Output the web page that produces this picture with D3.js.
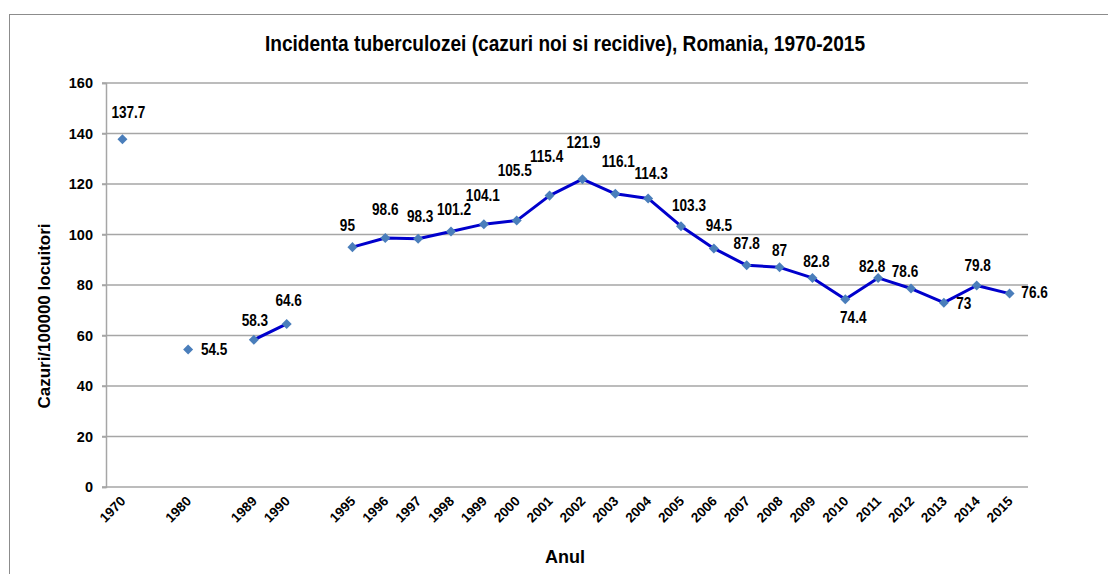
<!DOCTYPE html>
<html lang="ro">
<head>
<meta charset="utf-8">
<title>Incidenta tuberculozei, Romania, 1970-2015</title>
<script src="https://d3js.org/d3.v7.min.js"></script>
<style type="text/css">
  body { margin: 0; background: #fff; }
  text { font-family: "Liberation Sans", Arial, sans-serif; fill: #000; }
</style>
</head>
<body>
<script type="text/javascript">
// categories (empty strings are spacer slots on the axis)
var years = ["1970", "", "1980", "", "1989", "1990", "", "1995", "1996", "1997", "1998", "1999",
             "2000", "2001", "2002", "2003", "2004", "2005", "2006", "2007", "2008", "2009",
             "2010", "2011", "2012", "2013", "2014", "2015"];
// cases per 100000 inhabitants
var values = [137.7, null, 54.5, null, 58.3, 64.6, null, 95, 98.6, 98.3, 101.2, 104.1,
              105.5, 115.4, 121.9, 116.1, 114.3, 103.3, 94.5, 87.8, 87, 82.8,
              74.4, 82.8, 78.6, 73, 79.8, 76.6];
var yTicks = [0, 20, 40, 60, 80, 100, 120, 140, 160];
// where each value label sits relative to its point [dx, dy]
var labelOffset = [[6,-27], null, [26,0], null, [1,-19], [2,-23], null, [-5,-22], [0,-29], [2,-22], [3,-22], [-1,-29],
                   [-2,-50], [-3,-39], [1,-37], [3,-32], [3,-25], [8,-21], [5,-23], [0,-22], [0,-17], [4,-17],
                   [8,18], [-6,-12], [-6,-17], [20,1], [1,-20], [25,-1]];

var w = 1108, h = 574;
var pLeft = 106, pRight = 1026, pTop = 83, pBottom = 487;

var svg = d3.select("body").append("svg")
  .attr("width", w).attr("height", h);

// outer frame
svg.append("rect")
  .attr("x", 9.5).attr("y", 14.5)
  .attr("width", 1110).attr("height", 600)
  .style("fill", "none").style("stroke", "#8c8c8c").style("stroke-width", 1);

var x = d3.scaleBand().domain(d3.range(years.length)).range([pLeft, pRight]);
var y = d3.scaleLinear().domain([0, 160]).range([pBottom, pTop]);
function cx(i){ return x(i) + x.bandwidth()/2; }

// gridlines
svg.append("g").selectAll("line")
  .data(yTicks).enter().append("line")
  .attr("x1", pLeft - 4).attr("x2", pRight + 2)
  .attr("y1", function(d){ return y(d); })
  .attr("y2", function(d){ return y(d); })
  .style("stroke", "#a6a6a6").style("stroke-width", 1.5);

// y axis
var yAxis = svg.append("g")
  .attr("transform", "translate(" + pLeft + ",0)")
  .call(d3.axisLeft(y).tickValues(yTicks).tickSize(4).tickPadding(9));
yAxis.select(".domain").style("stroke", "#a6a6a6").style("stroke-width", 1.5);
yAxis.selectAll(".tick line").style("stroke", "#a6a6a6").style("stroke-width", 1.5);
yAxis.selectAll(".tick text")
  .style("font-family", "Liberation Sans, Arial, sans-serif")
  .style("font-size", "14.5px").style("font-weight", "bold").style("fill", "#000");

// x labels
svg.append("g").selectAll("text")
  .data(years.map(function(d, i){ return {t: d, i: i}; }).filter(function(d){ return d.t !== ""; }))
  .enter().append("text")
  .attr("transform", function(d){
    return "translate(" + (cx(d.i) + 4) + ",502) rotate(-45)";
  })
  .attr("text-anchor", "end")
  .style("font-size", "13.5px").style("font-weight", "bold")
  .text(function(d){ return d.t; });

// line
var line = d3.line()
  .defined(function(d){ return d !== null; })
  .x(function(d, i){ return cx(i); })
  .y(function(d){ return y(d); });

svg.append("path")
  .datum(values)
  .attr("d", line)
  .style("fill", "none").style("stroke", "#0000cc").style("stroke-width", 3)
  .style("stroke-linejoin", "round");

// markers
var pts = values.map(function(v, i){ return {v: v, i: i}; })
  .filter(function(d){ return d.v !== null; });

svg.append("g").selectAll("path")
  .data(pts).enter().append("path")
  .attr("d", d3.symbol().type(d3.symbolDiamond2).size(64))
  .attr("transform", function(d){
    return "translate(" + cx(d.i) + "," + y(d.v) + ")";
  })
  .style("fill", "#4a7ebb");

// value labels (squeezed horizontally like the original narrow font)
svg.append("g").selectAll("text")
  .data(pts).enter().append("text")
  .attr("transform", function(d){
    return "translate(" + (cx(d.i) + labelOffset[d.i][0]) + "," + (y(d.v) + labelOffset[d.i][1]) + ") scale(0.85,1)";
  })
  .attr("text-anchor", "middle")
  .attr("dy", "0.35em")
  .style("font-size", "16px").style("font-weight", "bold")
  .text(function(d){ return d.v; });

// title
svg.append("text")
  .attr("x", 565).attr("y", 51)
  .attr("text-anchor", "middle")
  .attr("textLength", 600)
  .attr("lengthAdjust", "spacingAndGlyphs")
  .style("font-size", "22px").style("font-weight", "bold")
  .text("Incidenta tuberculozei (cazuri noi si recidive), Romania, 1970-2015");

// axis titles
svg.append("text")
  .attr("transform", "translate(50,316) rotate(-90)")
  .attr("text-anchor", "middle")
  .style("font-size", "17px").style("font-weight", "bold")
  .text("Cazuri/100000 locuitori");

svg.append("text")
  .attr("x", 565).attr("y", 563)
  .attr("text-anchor", "middle")
  .style("font-size", "18px").style("font-weight", "bold")
  .text("Anul");
</script>
</body>
</html>
